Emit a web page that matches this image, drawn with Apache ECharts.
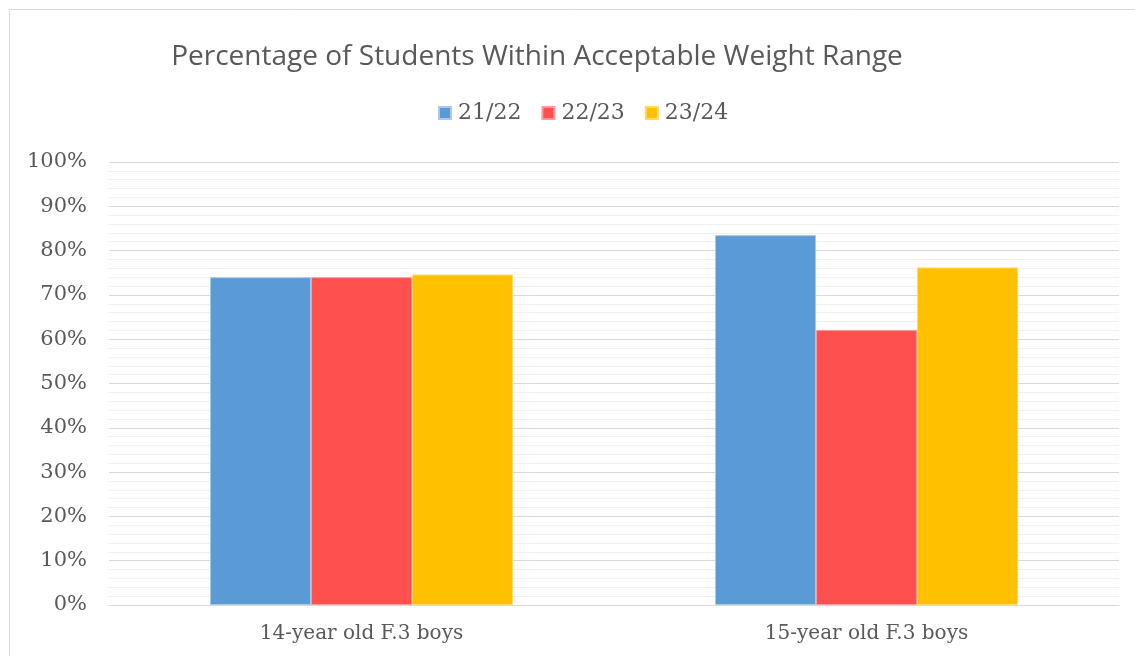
<!DOCTYPE html>
<html>
<head>
<meta charset="utf-8">
<script src="https://cdn.jsdelivr.net/npm/echarts@6/dist/echarts.min.js"></script>
<style>
  html, body { margin: 0; padding: 0; background: #fff; }
  #chart { width: 1135px; height: 656px; }
</style>
</head>
<body>
<div id="chart"></div>
<script>
// data
var categories = ['14-year old F.3 boys', '15-year old F.3 boys']
var seriesNames = ['21/22', '22/23', '23/24']
var values2122 = [74.0, 83.5]
var values2223 = [74.0, 62.1]
var values2324 = [74.6, 76.2]
var colors = ['#5B9BD5', '#FF5050', '#FFC000']

var serifFont = '"DejaVu Serif", "Liberation Serif", serif'

var chart = echarts.init(document.getElementById('chart'))
chart.setOption({
  animation: false,
  color: colors,
  graphic: [{
    type: 'rect',
    shape: { x: 9.5, y: 9.5, width: 1200, height: 700 },
    style: { fill: 'none', stroke: '#d9d9d9', lineWidth: 1 },
    silent: true
  }],
  title: {
    text: 'Percentage of Students Within Acceptable Weight Range',
    left: 532,
    top: 38,
    textAlign: 'center',
    textStyle: {
      fontFamily: '"Open Sans", sans-serif',
      fontWeight: 'normal',
      fontSize: 28,
      color: '#595959'
    }
  },
  legend: {
    data: seriesNames,
    left: 433,
    top: 97,
    itemWidth: 12,
    itemHeight: 12,
    itemGap: 20,
    icon: 'rect',
    textStyle: {
      fontFamily: serifFont,
      fontSize: 22,
      color: '#595959',
      padding: [0, 0, 0, 2]
    }
  },
  grid: {
    left: 109,
    right: 16,
    top: 162,
    bottom: 51,
    containLabel: false
  },
  xAxis: {
    type: 'category',
    data: categories,
    axisTick: { show: false },
    axisLine: { lineStyle: { color: '#d9d9d9', width: 1 } },
    axisLabel: {
      margin: 19,
      fontFamily: serifFont,
      fontSize: 20,
      color: '#595959'
    }
  },
  yAxis: {
    type: 'value',
    min: 0,
    max: 100,
    interval: 10,
    axisLine: { show: false },
    axisTick: { show: false },
    axisLabel: {
      margin: 22,
      formatter: '{value}%',
      fontFamily: serifFont,
      fontSize: 21,
      color: '#595959'
    },
    splitLine: { lineStyle: { color: '#d9d9d9', width: 1 } },
    minorTick: { show: false, splitNumber: 5 },
    minorSplitLine: { show: true, lineStyle: { color: '#f0f0f0', width: 1 } }
  },
  series: [
    {
      name: seriesNames[0],
      type: 'bar',
      data: values2122,
      barGap: '0%',
      barCategoryGap: '40%',
      itemStyle: { borderColor: '#a9c9ea', borderWidth: 1 }
    },
    {
      name: seriesNames[1],
      type: 'bar',
      data: values2223,
      itemStyle: { borderColor: '#ff9a9a', borderWidth: 1 }
    },
    {
      name: seriesNames[2],
      type: 'bar',
      data: values2324,
      itemStyle: { borderColor: '#ffd966', borderWidth: 1 }
    }
  ]
})
</script>
</body>
</html>
